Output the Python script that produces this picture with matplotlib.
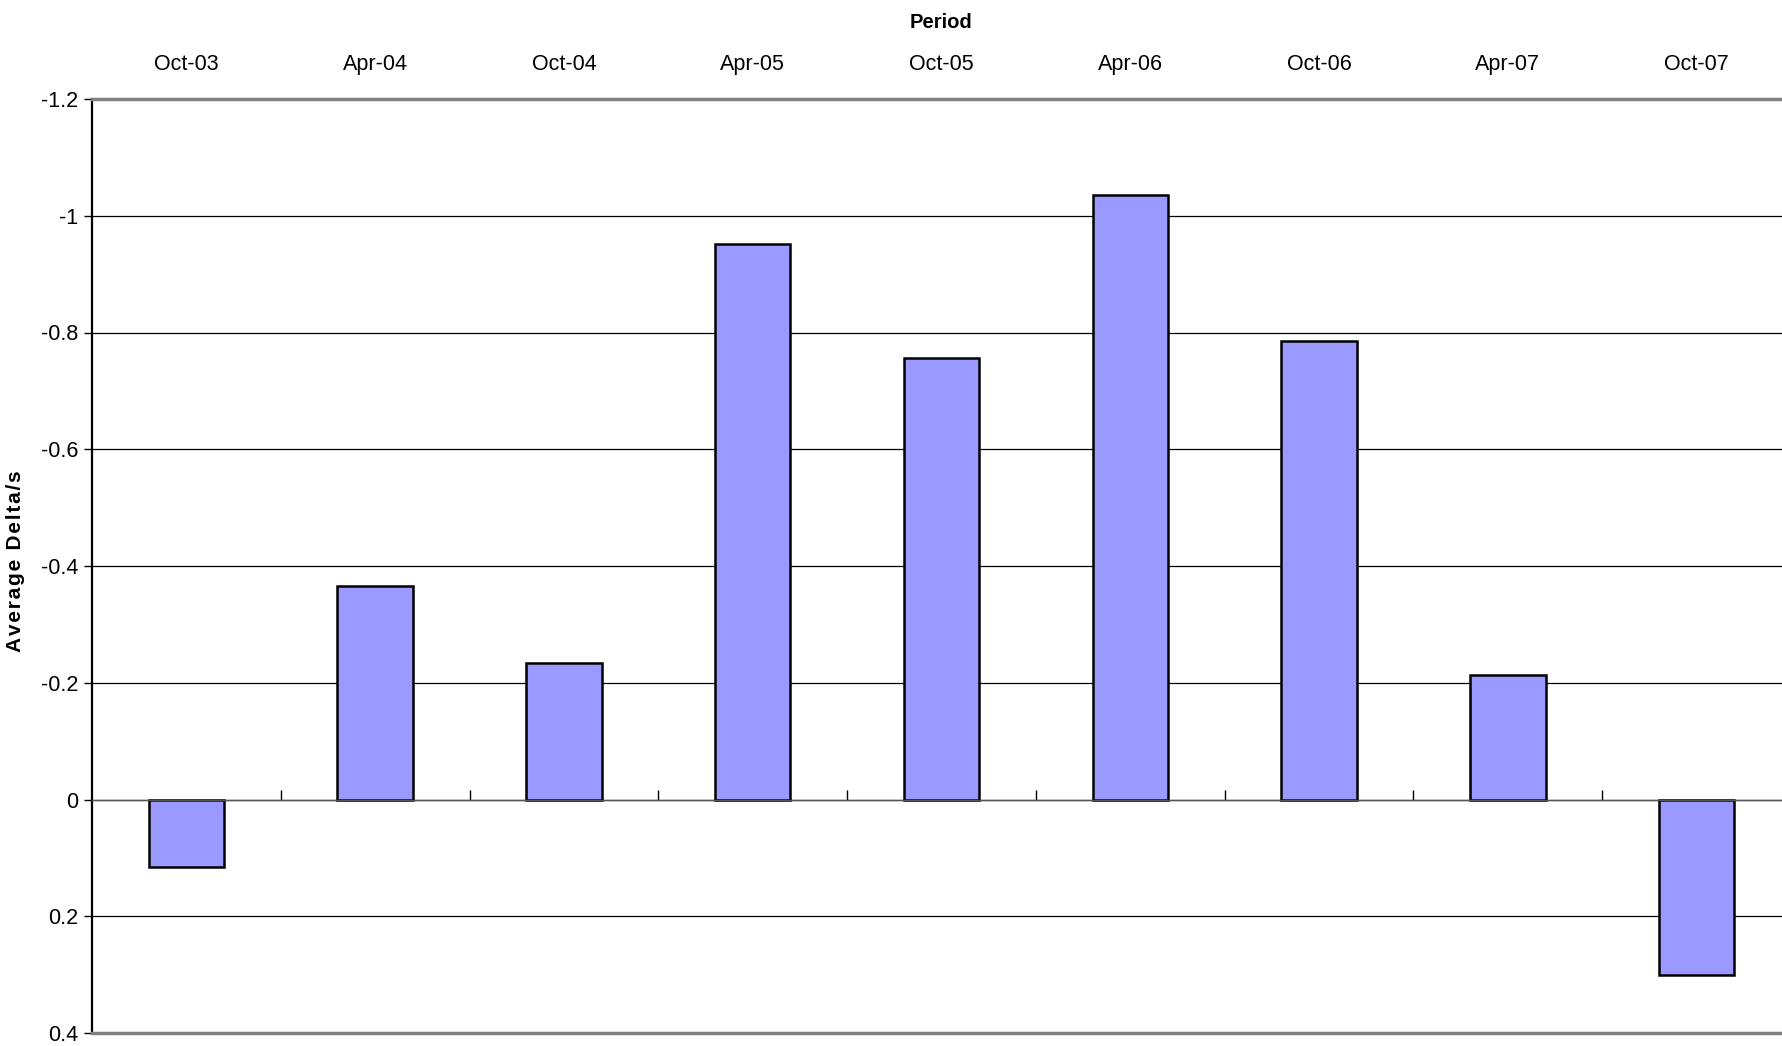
import matplotlib.pyplot as plt
import numpy as np

periods = ["Oct-03", "Apr-04", "Oct-04", "Apr-05", "Oct-05", "Apr-06", "Oct-06", "Apr-07", "Oct-07"]
avg_delta = [0.115, -0.366, -0.234, -0.951, -0.756, -1.036, -0.785, -0.214, 0.300]
y_ticks = [-1.2, -1, -0.8, -0.6, -0.4, -0.2, 0, 0.2, 0.4]
y_tick_labels = ["-1.2", "-1", "-0.8", "-0.6", "-0.4", "-0.2", "0", "0.2", "0.4"]

plt.rcParams['font.family'] = ['Liberation Sans', 'DejaVu Sans']

fig = plt.figure(figsize=(17.83, 10.46), dpi=100)
# plot area runs a little past the right edge of the image, like the original
ax = fig.add_axes([92 / 1783, 1 - 1033 / 1046, (1791 - 92) / 1783, (1033 - 99) / 1046])

x = np.arange(len(periods))
ax.bar(x, avg_delta, width=0.4, color="#9999ff", edgecolor="black", linewidth=1.8, zorder=3)

ax.set_xlim(-0.5, len(periods) - 0.5)
ax.set_ylim(0.4, -1.2)
ax.set_yticks(y_ticks)
ax.set_yticklabels(y_tick_labels, fontsize=15.5)
ax.tick_params(axis='y', direction='out', length=6, width=1, pad=4)
ax.yaxis.grid(True, color="black", linewidth=0.9, zorder=0)

# category boundary ticks along the zero line
ax2 = ax.twiny()
ax2.set_xlim(ax.get_xlim())
ax2.spines["bottom"].set_position(("data", 0))
ax2.spines["bottom"].set_color("#555555")
ax2.spines["bottom"].set_linewidth(1.0)
for side in ["top", "left", "right"]:
    ax2.spines[side].set_visible(False)
ax2.xaxis.set_ticks_position("bottom")
ax2.set_xticks(x[:-1] + 0.5)
ax2.set_xticklabels([])
ax2.tick_params(axis='x', direction='in', length=7, width=1, color="black")

# twiny resets the main axis to the bottom, so put labels on top afterwards
ax.xaxis.tick_top()
ax.set_xticks(x)
ax.set_xticklabels(periods, fontsize=15.5)
ax.tick_params(axis='x', length=0, pad=17)
ax.set_xlabel("Period", fontsize=14.5, fontweight="bold")
ax.xaxis.set_label_position('top')
ax.xaxis.set_label_coords(0.5, (1033 - 23) / 934)
ax.xaxis.label.set_verticalalignment("center")

ylabel = "\u200a".join("Average Delta/s")
ax.set_ylabel(ylabel, fontsize=15, fontweight="bold")
ax.yaxis.set_label_coords((25 - 92) / 1699, 0.505)

for side in ["top", "bottom"]:
    ax.spines[side].set_color("#808080")
    ax.spines[side].set_linewidth(2.5)
ax.spines["left"].set_color("black")
ax.spines["left"].set_linewidth(1.6)
ax.spines["right"].set_visible(False)

fig.savefig("out.png", dpi=100)
